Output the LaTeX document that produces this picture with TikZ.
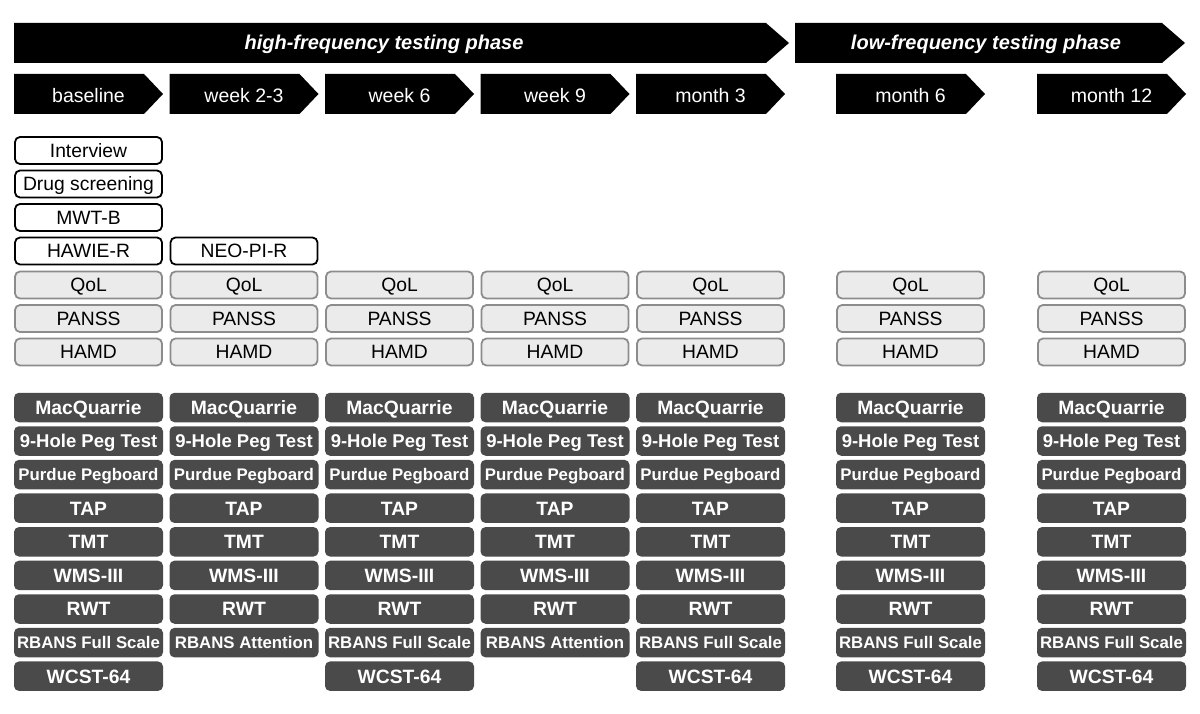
\documentclass[tikz,border=0pt]{standalone}
\usepackage{fontspec}
\setmainfont{Liberation Sans}
\definecolor{dk}{RGB}{74,74,74}
\definecolor{lg}{RGB}{235,235,235}
\definecolor{gb}{RGB}{140,140,140}
\begin{document}
\begin{tikzpicture}[x=1pt,y=-1pt,
  wbox/.style={draw=black, line width=1.8pt, fill=white, rounded corners=5pt,
    minimum width=147pt, minimum height=27pt, inner sep=0pt,
    text height=13.6pt, text depth=0pt, font=\fontsize{19.3}{22}\selectfont},
  gbox/.style={wbox, draw=gb, fill=lg},
  dbox/.style={fill=dk, rounded corners=5pt, minimum width=149pt, minimum height=29.5pt,
    inner sep=0pt, text=white, text height=13.6pt, text depth=0pt,
    font=\fontsize{19.3}{22}\selectfont\bfseries},
  smallb/.style={font=\fontsize{16.8}{20}\selectfont\bfseries, text height=12pt},
  midb/.style={font=\fontsize{18.5}{21}\selectfont\bfseries, text height=13.1pt},
  chevtxt/.style={text=white, inner sep=0pt, font=\fontsize{19.5}{22}\selectfont},
  bantxt/.style={text=white, inner sep=0pt, font=\fontsize{20}{23}\selectfont\bfseries\itshape}
]
\useasboundingbox (0,0) rectangle (1200,714);
% banners
\fill[black] (14,23) -- (766,23) -- (789,43) -- (766,63) -- (14,63) -- cycle;
\node[bantxt] (hf) at (384,44) {high-frequency testing phase};
\fill[black] (795,23) -- (1162,23) -- (1185,43) -- (1162,63) -- (795,63) -- cycle;
\node[bantxt] (lf) at (986,44) {low-frequency testing phase};
% chevrons
\foreach \i/\x/\t in {1/14/baseline,2/169.5/week 2-3,3/325/week 6,4/480.5/week 9,5/636/month 3,6/836/month 6,7/1037/month 12}{
  \fill[black] (\x,74) -- ++(130,0) -- ++(19,20) -- ++(-19,20) -- ++(-130,0) -- cycle;
  \node[chevtxt] (ch\i) at (\x+74.5,95.5) {\t};
}
% white boxes
\node[wbox] (interview) at (88.5,150.5) {Interview};
\node[wbox] (drug) at (88.5,184) {Drug screening};
\node[wbox] (mwt) at (88.5,217.5) {MWT-B};
\node[wbox] (hawie) at (88.5,251) {HAWIE-R};
\node[wbox] (neo) at (244,251) {NEO-PI-R};
% columns
\foreach \i/\x in {1/88.5,2/244,3/399.5,4/555,5/710.5,6/910.5,7/1111.5}{
  \node[gbox] (qol\i) at (\x,285) {QoL};
  \node[gbox] (panss\i) at (\x,318.5) {PANSS};
  \node[gbox] (hamd\i) at (\x,352) {HAMD};
  \node[dbox] (mac\i) at (\x,407.5) {MacQuarrie};
  \node[dbox,midb] (peg\i) at (\x,441) {9-Hole Peg Test};
  \node[dbox,smallb] (pur\i) at (\x,474.6) {Purdue Pegboard};
  \node[dbox] (tap\i) at (\x,508.2) {TAP};
  \node[dbox] (tmt\i) at (\x,541.8) {TMT};
  \node[dbox] (wms\i) at (\x,575.4) {WMS-III};
  \node[dbox] (rwt\i) at (\x,609) {RWT};
}
\foreach \i/\x in {1/88.5,3/399.5,5/710.5,6/910.5,7/1111.5}{
  \node[dbox,smallb] (rbans\i) at (\x,642.6) {RBANS Full Scale};
  \node[dbox] (wcst\i) at (\x,676.2) {WCST-64};
}
\foreach \i/\x in {2/244,4/555}{
  \node[dbox,smallb] (rbans\i) at (\x,642.6) {RBANS Attention};
}
\end{tikzpicture}
\end{document}
